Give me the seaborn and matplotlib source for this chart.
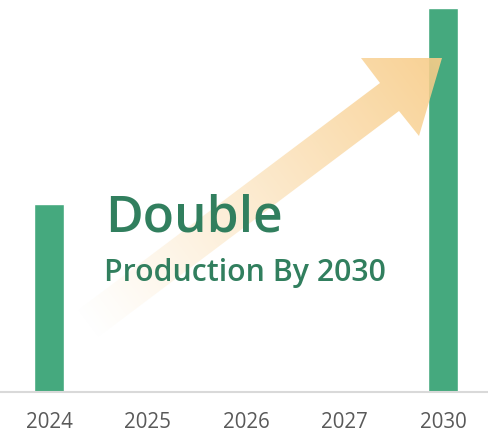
import matplotlib
matplotlib.use("Agg")
import matplotlib.pyplot as plt
import seaborn as sns
import numpy as np
import pandas as pd
from matplotlib.patches import Polygon

years = ["2024", "2025", "2026", "2027", "2030"]
production = [49, np.nan, np.nan, np.nan, 100]

headline = "Double"
subline = "Production By 2030"

sns.set_theme(style="white")
plt.rcParams['font.family'] = ['Open Sans', 'DejaVu Sans']

df = pd.DataFrame({"year": years, "value": production})

fig = plt.figure(figsize=(4.88, 4.32), dpi=100)
ax = fig.add_axes([0, 1 - 392 / 432, 1, 392 / 432])
sns.barplot(data=df, x="year", y="value", order=years, color="#45A97E",
            saturation=1, width=0.305, ax=ax)
ax.set_xlim(-0.497, 4.457)
ax.set_ylim(0, 100 * 392 / 384)
ax.set_xlabel("")
ax.set_ylabel("")
ax.set_yticks([])
for s in ["top", "left", "right"]:
    ax.spines[s].set_visible(False)
ax.spines["bottom"].set_color("#D9D9D9")
ax.spines["bottom"].set_linewidth(1.5)
ax.tick_params(axis="x", length=0, pad=14.5, labelsize=14.8, labelcolor="#595959")

# decorative gradient arrow overlay (pixel coordinates)
ov = fig.add_axes([0, 0, 1, 1])
ov.set_xlim(0, 488)
ov.set_ylim(432, 0)
ov.axis("off")
ov.patch.set_alpha(0)
pts = [(78, 310), (380, 83), (361, 58), (442, 58), (419, 136), (399, 111), (97, 338)]
poly = Polygon(pts, closed=True, facecolor="none", edgecolor="none")
ov.add_patch(poly)
H, W = 432, 488
yy, xx = np.mgrid[0:H, 0:W]
d = np.array([442 - 85, 58 - 325], float)
L = np.hypot(*d)
d /= L
t = ((xx - 85) * d[0] + (yy - 325) * d[1]) / L
t = np.clip(t, 0, 1)
img = np.zeros((H, W, 4))
img[..., 0] = 248 / 255
img[..., 1] = 205 / 255
img[..., 2] = 138 / 255
img[..., 3] = 0.92 * t ** 1.1
im = ov.imshow(img, extent=(0, W, H, 0), interpolation="bilinear", zorder=2)
im.set_clip_path(poly)
ov.set_xlim(0, 488)
ov.set_ylim(432, 0)

ov.text(105, 231, headline, fontsize=37, fontweight="semibold", color="#317F5E",
        ha="left", va="baseline", zorder=3)
ov.text(104, 281, subline, fontsize=21.8, fontweight="semibold", color="#317F5E",
        ha="left", va="baseline", zorder=3)

fig.savefig("out.png", dpi=100)
